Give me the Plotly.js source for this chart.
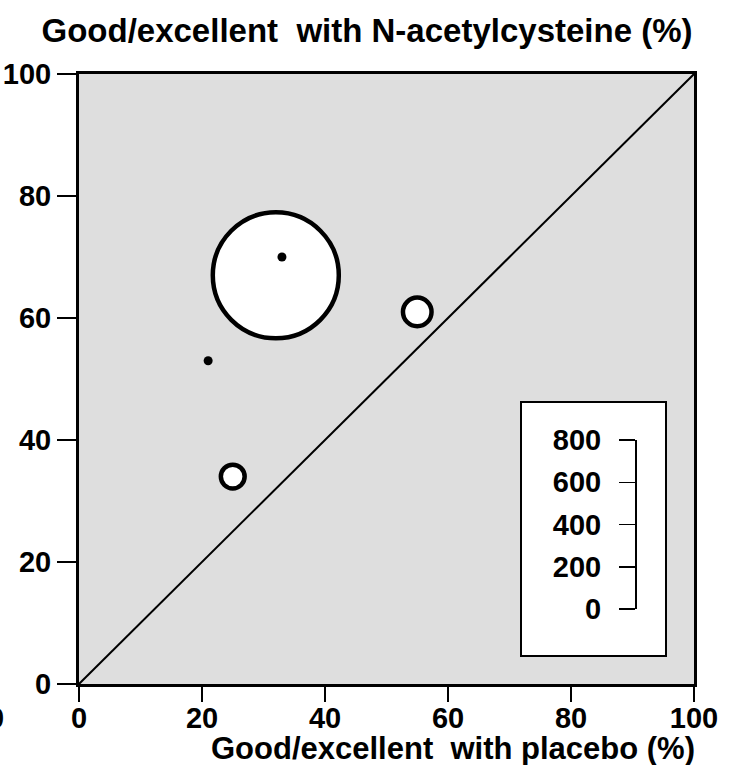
<!DOCTYPE html>
<html>
<head>
<meta charset="utf-8">
<script src="https://cdn.plot.ly/plotly-3.0.1.min.js"></script>
<style>html,body{margin:0;padding:0;background:#fff;}#chart{width:737px;height:765px;}</style>
</head>
<body>
<div id="chart"></div>
<script>
// Open circles: studies sized by number of patients
var circlePlacebo = [32, 55, 25];
var circleNAC = [67, 61, 34];
var circlePatients = [700, 36, 25];
// Filled dots
var dotPlacebo = [33, 21];
var dotNAC = [70, 53];
// Line of identity
var identityX = [0, 100];
var identityY = [0, 100];
// Axis ticks
var axisTicks = [0, 20, 40, 60, 80, 100];
var sizeTicks = [0, 200, 400, 600, 800];

var FONT = "Liberation Sans, Arial, sans-serif";

var traces = [
  {x: identityX, y: identityY, type: 'scatter', mode: 'lines',
   line: {color: '#000', width: 2}, hoverinfo: 'skip', showlegend: false},
  {x: circlePlacebo, y: circleNAC, type: 'scatter', mode: 'markers',
   marker: {size: circlePatients, sizemode: 'area', sizeref: 2 * 700 / (126 * 126),
            color: '#fff', line: {color: '#000', width: 4.5}, opacity: 1},
   showlegend: false},
  {x: dotPlacebo, y: dotNAC, type: 'scatter', mode: 'markers',
   marker: {size: 9, color: '#000', line: {width: 0}}, showlegend: false},
  {x: [null], y: [null], xaxis: 'x', yaxis: 'y2', type: 'scatter', mode: 'markers',
   showlegend: false, hoverinfo: 'skip'}
];

var tickFont = {family: FONT, size: 29, color: '#000', weight: 'bold'};

var layout = {
  width: 737, height: 765,
  margin: {l: 79, r: 43, t: 74, b: 81, pad: 0},
  paper_bgcolor: '#fff',
  plot_bgcolor: 'rgba(0,0,0,0)',
  showlegend: false,
  title: {text: 'Good/excellent  with N-acetylcysteine (%)',
          font: {family: FONT, size: 33, color: '#000', weight: 'bold'},
          x: 367 / 737, xanchor: 'center', xref: 'container',
          y: 1 - 30 / 765, yanchor: 'middle', yref: 'container'},
  xaxis: {range: [0, 100], tickvals: axisTicks, ticktext: axisTicks.map(String),
          ticks: 'outside', ticklen: 15, tickwidth: 1.5, tickcolor: '#000',
          ticklabelstandoff: -9,
          showline: true, mirror: true, linewidth: 3, linecolor: '#000',
          showgrid: false, zeroline: false, tickfont: tickFont, automargin: false},
  yaxis: {range: [0, 100], tickvals: axisTicks, ticktext: axisTicks.map(String),
          ticks: 'outside', ticklen: 19, tickwidth: 1.5, tickcolor: '#000',
          showline: true, mirror: true, linewidth: 3, linecolor: '#000',
          showgrid: false, zeroline: false, tickfont: tickFont, automargin: false},
  yaxis2: {range: [0, 800], tickvals: sizeTicks, ticktext: sizeTicks.map(String),
           domain: [(684 - 609) / 610, (684 - 440) / 610],
           anchor: 'free', position: (636 - 79) / 615, side: 'left',
           ticks: 'outside', ticklen: 16, tickwidth: 1.5, tickcolor: '#000',
           ticklabelstandoff: 12,
           showline: true, linewidth: 2, linecolor: '#000',
           showgrid: false, zeroline: false, automargin: false,
           tickfont: {family: FONT, size: 29, color: '#000', weight: 'bold'}},
  shapes: [
    {type: 'rect', xref: 'paper', yref: 'paper', layer: 'below',
     x0: 0, x1: 1, y0: 0, y1: 1,
     fillcolor: '#dedede', line: {width: 0}},
    {type: 'rect', xref: 'paper', yref: 'paper', layer: 'below',
     x0: (521 - 79) / 615, x1: (666 - 79) / 615,
     y0: (684 - 656) / 610, y1: (684 - 402) / 610,
     fillcolor: '#fff', line: {color: '#000', width: 2}}
  ],
  annotations: [
    {text: 'Good/excellent  with placebo (%)', xref: 'paper', yref: 'paper',
     x: (697 - 79) / 615, xanchor: 'right', y: (684 - 748) / 610, yanchor: 'middle',
     showarrow: false, font: {family: FONT, size: 31, color: '#000', weight: 'bold'}},
    {text: '0', xref: 'paper', yref: 'paper',
     x: (-4 - 79) / 615, xanchor: 'center', y: (684 - 718) / 610, yanchor: 'middle',
     showarrow: false, font: tickFont}
  ]
};

Plotly.newPlot('chart', traces, layout, {displayModeBar: false, staticPlot: true});
</script>
</body>
</html>
